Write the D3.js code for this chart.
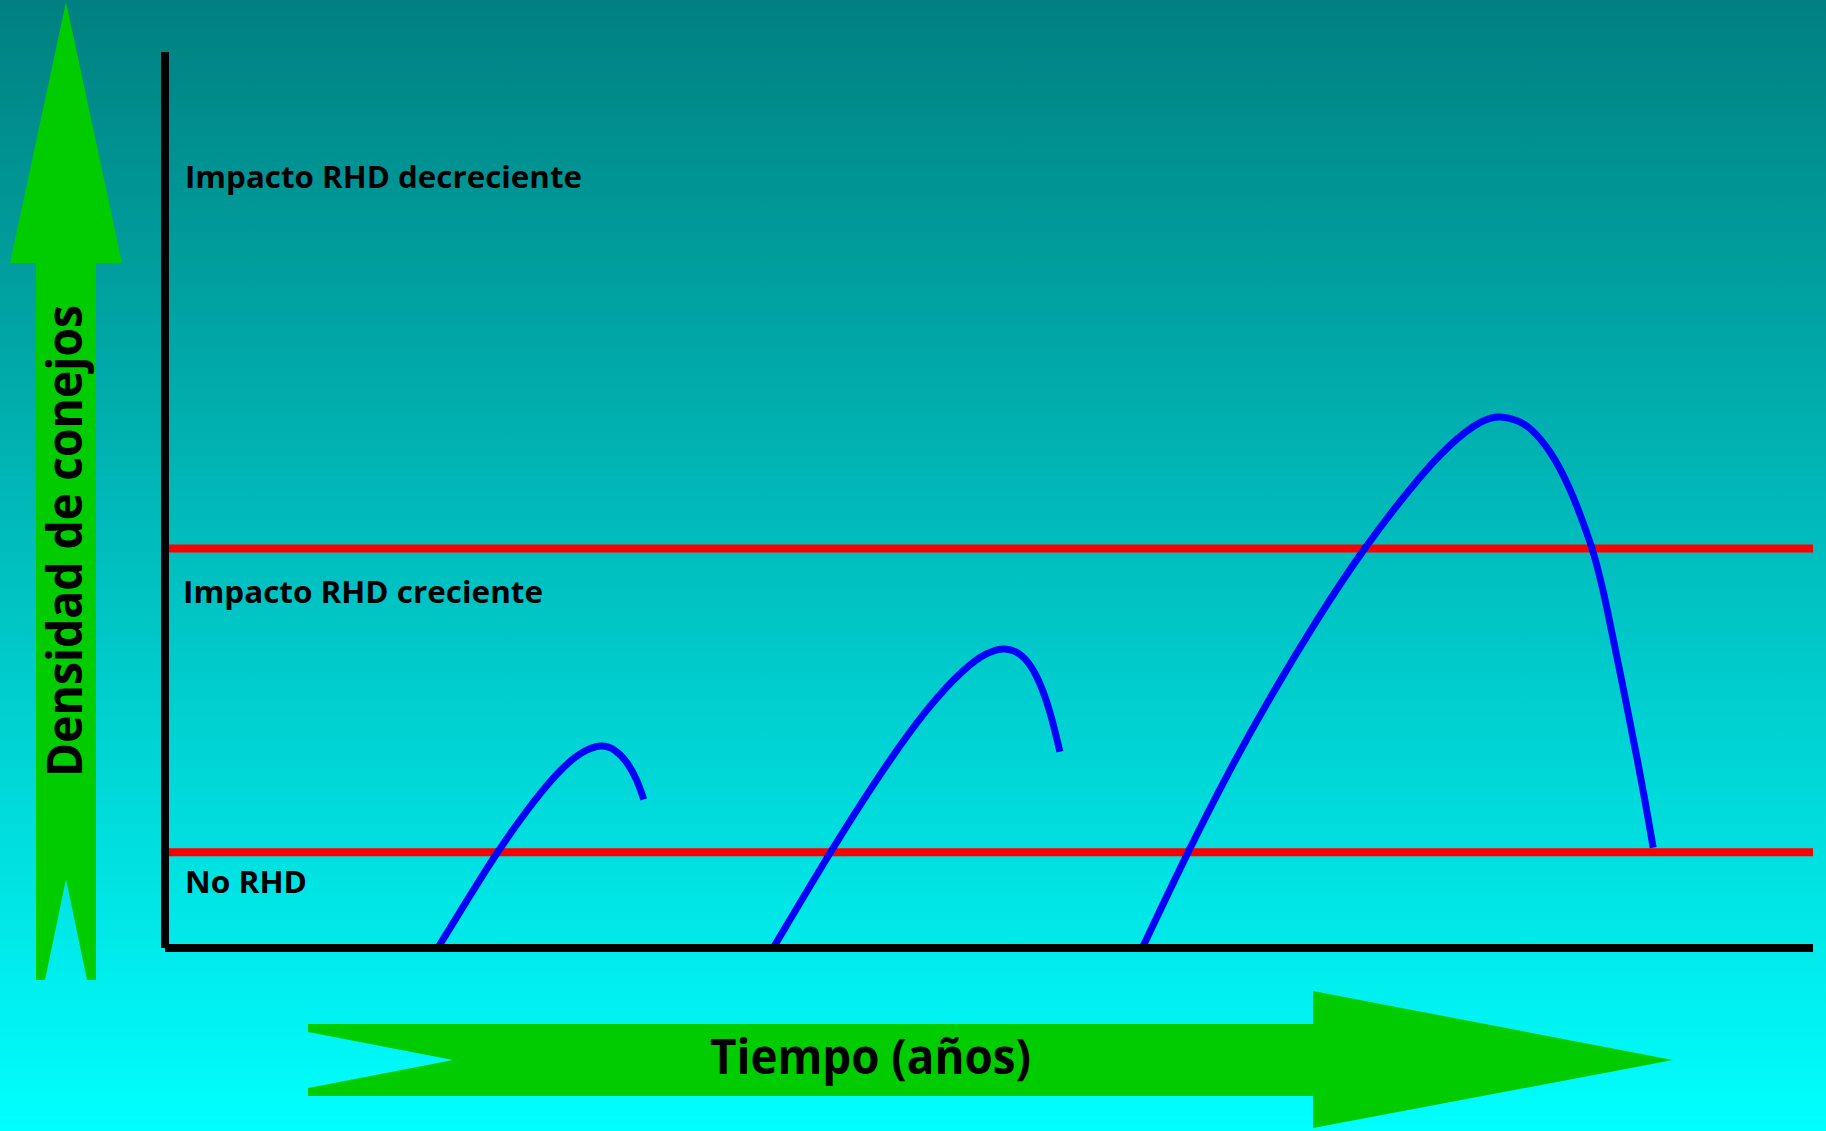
<!DOCTYPE html>
<html>
<head>
<meta charset="utf-8">
<script src="https://d3js.org/d3.v7.min.js"></script>
<style>
  body { margin: 0; background: #00ffff; }
  svg { display: block; }
  text { font-family: "Comic Sans MS", "Open Sans", "DejaVu Sans", sans-serif; font-weight: bold; fill: #000; }
</style>
</head>
<body>
<div id="chart"></div>
<script>
// data (time in years, density in arbitrary units)
var thresholds = [10.7, 44.6];

var zoneLabels = ["No RHD", "Impacto RHD creciente", "Impacto RHD decreciente"];

var curve1 = [
  [3.31, 0], [3.67, 5.4], [4.03, 10.7], [4.39, 15.4], [4.76, 19.6],
  [5.04, 21.9], [5.30, 22.8], [5.46, 22.2], [5.61, 20.8], [5.73, 18.75],
  [5.81, 16.6]
];
var curve2 = [
  [7.38, 0], [8.07, 10.7], [8.68, 19.5], [9.25, 26.9], [9.73, 31.5],
  [9.98, 33.0], [10.19, 33.6], [10.40, 32.9], [10.58, 30.6], [10.74, 26.6],
  [10.86, 21.9]
];
var curve3 = [
  [11.86, 0], [12.41, 10.7], [12.92, 19.9], [13.41, 28.0], [13.98, 36.7],
  [14.53, 44.4], [15.15, 51.8], [15.59, 56.3], [16.0, 59.1], [16.21, 59.4],
  [16.42, 58.9], [16.57, 58.1], [16.81, 55.6], [17.05, 51.5], [17.32, 44.8],
  [17.45, 40.5], [17.92, 18.75], [18.06, 11.2]
];
var curves = [curve1, curve2, curve3];

var xTitle = "Tiempo (años)";
var yTitle = "Densidad de conejos";

function draw_chart(){
  var width = 1826;
  var height = 1131;
  var left = 165, right = 1813, top = 52, bottom = 948;

  var svg = d3.select("#chart").append("svg")
    .attr("width", width)
    .attr("height", height);

  // background gradient teal -> cyan
  var grad = svg.append("defs").append("linearGradient")
    .attr("id", "bg")
    .attr("x1", 0).attr("y1", 0).attr("x2", 0).attr("y2", 1);
  grad.append("stop").attr("offset", "0%").attr("stop-color", "#008080");
  grad.append("stop").attr("offset", "100%").attr("stop-color", "#00ffff");

  svg.append("rect")
    .attr("width", width)
    .attr("height", height)
    .style("fill", "url(#bg)");

  // scales
  var xScale = d3.scaleLinear().domain([0, 20]).range([left, right]);
  var yScale = d3.scaleLinear().domain([0, 100]).range([bottom, top]);

  // green arrows
  var arrowUp = [[66,2],[122,263],[96,263],[96,980],[87,980],[66,879],[45,980],[36,980],[36,263],[10,263]];
  var arrowRight = [[308,1024],[1313,1024],[1313,991],[1673,1060],[1313,1128],[1313,1096],[308,1096],[308,1088],[453,1060],[308,1032]];

  svg.selectAll(".arrow")
    .data([arrowUp, arrowRight])
    .enter().append("polygon")
    .attr("class", "arrow")
    .attr("points", function(d) { return d.join(" "); })
    .style("fill", "#00cc00");

  // threshold lines
  svg.selectAll(".threshold")
    .data(thresholds)
    .enter().append("line")
    .attr("class", "threshold")
    .attr("x1", xScale(0))
    .attr("x2", xScale(20))
    .attr("y1", function(d) { return yScale(d); })
    .attr("y2", function(d) { return yScale(d); })
    .style("stroke", "#ff0000")
    .style("stroke-width", 8);

  // population curves
  var line = d3.line()
    .x(function(d) { return xScale(d[0]); })
    .y(function(d) { return yScale(d[1]); })
    .curve(d3.curveBasis);

  svg.selectAll(".pop")
    .data(curves)
    .enter().append("path")
    .attr("class", "pop")
    .attr("d", line)
    .style("fill", "none")
    .style("stroke", "#0000ff")
    .style("stroke-width", 7);

  // axes (plain lines, no ticks)
  svg.append("line")
    .attr("x1", left).attr("x2", left)
    .attr("y1", top).attr("y2", bottom)
    .style("stroke", "#000").style("stroke-width", 8);
  svg.append("line")
    .attr("x1", left).attr("x2", right)
    .attr("y1", bottom).attr("y2", bottom)
    .style("stroke", "#000").style("stroke-width", 8);

  // zone labels
  var labelPos = [
    {x: 185, y: 893, len: 122},
    {x: 183, y: 603, len: 360},
    {x: 185, y: 188, len: 397}
  ];
  svg.selectAll(".zone")
    .data(zoneLabels)
    .enter().append("text")
    .attr("class", "zone")
    .attr("x", function(d, i) { return labelPos[i].x; })
    .attr("y", function(d, i) { return labelPos[i].y; })
    .attr("textLength", function(d, i) { return labelPos[i].len; })
    .attr("lengthAdjust", "spacingAndGlyphs")
    .style("font-size", "31px")
    .text(function(d) { return d; });

  // axis titles
  svg.append("text")
    .attr("x", 710)
    .attr("y", 1074)
    .attr("textLength", 321)
    .attr("lengthAdjust", "spacingAndGlyphs")
    .style("font-size", "48px")
    .text(xTitle);

  svg.append("text")
    .attr("transform", "translate(82,777) rotate(-90)")
    .attr("textLength", 472)
    .attr("lengthAdjust", "spacingAndGlyphs")
    .style("font-size", "48px")
    .text(yTitle);
}

draw_chart();
</script>
</body>
</html>
